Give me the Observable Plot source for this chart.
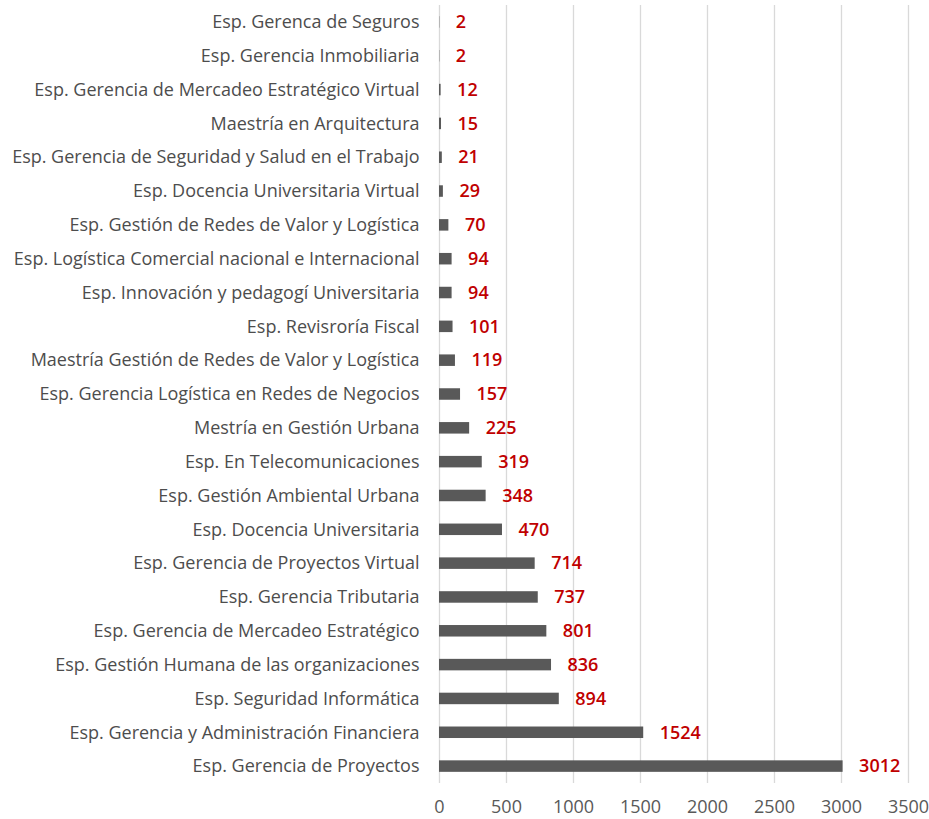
<!DOCTYPE html>
<html>
<head>
<meta charset="utf-8">
<script src="https://cdn.jsdelivr.net/npm/d3@7"></script>
<script src="https://cdn.jsdelivr.net/npm/@observablehq/plot@0.6"></script>
<style>
  html, body { margin: 0; padding: 0; background: #fff; }
  #chart svg { display: block; }
</style>
</head>
<body>
<div id="chart"></div>
<script>
const programas = [
  "Esp. Gerenca de Seguros",
  "Esp. Gerencia Inmobiliaria",
  "Esp. Gerencia de Mercadeo Estratégico Virtual",
  "Maestría en Arquitectura",
  "Esp. Gerencia de Seguridad y Salud en el Trabajo",
  "Esp. Docencia Universitaria Virtual",
  "Esp. Gestión de Redes de Valor y Logística",
  "Esp. Logística Comercial nacional e Internacional",
  "Esp. Innovación y pedagogí Universitaria",
  "Esp. Revisroría Fiscal",
  "Maestría Gestión de Redes de Valor y Logística",
  "Esp. Gerencia Logística en Redes de Negocios",
  "Mestría en Gestión Urbana",
  "Esp. En Telecomunicaciones",
  "Esp. Gestión Ambiental Urbana",
  "Esp. Docencia Universitaria",
  "Esp. Gerencia de Proyectos Virtual",
  "Esp. Gerencia Tributaria",
  "Esp. Gerencia de Mercadeo Estratégico",
  "Esp. Gestión Humana de las organizaciones",
  "Esp. Seguridad Informática",
  "Esp. Gerencia y Administración Financiera",
  "Esp. Gerencia de Proyectos"
];
const valores = [2, 2, 12, 15, 21, 29, 70, 94, 94, 101, 119, 157, 225, 319, 348, 470, 714, 737, 801, 836, 894, 1524, 3012];
const xTicks = [0, 500, 1000, 1500, 2000, 2500, 3000, 3500];

const data = programas.map((p, i) => ({programa: p, valor: valores[i]}));

const chart = Plot.plot({
  width: 929,
  height: 819,
  marginLeft: 439,
  marginRight: 21,
  marginTop: 5,
  marginBottom: 36,
  style: {fontFamily: "'Open Sans', sans-serif", fontSize: "18px", color: "#4d4d4d", background: "#fff"},
  x: {domain: [0, 3500], ticks: xTicks, tickFormat: d => String(d), label: null, tickSize: 0, tickPadding: 17},
  y: {domain: programas, label: null, tickSize: 0, tickPadding: 20, paddingInner: 0.66, paddingOuter: 0.33, round: false},
  marks: [
    Plot.gridX(xTicks, {stroke: "#d9d9d9", strokeOpacity: 1, strokeWidth: 1.3}),
    Plot.barX(data, {x: "valor", y: "programa", fill: "#595959"}),
    Plot.text(data, {x: "valor", y: "programa", text: d => String(d.valor), dx: 16, textAnchor: "start", fill: "#c00000", fontWeight: 600, fontSize: 18})
  ]
});
chart.querySelectorAll("g[aria-label='x-axis tick label'] text").forEach(t => t.setAttribute("fill", "#595959"));
document.getElementById("chart").appendChild(chart);
</script>
</body>
</html>
